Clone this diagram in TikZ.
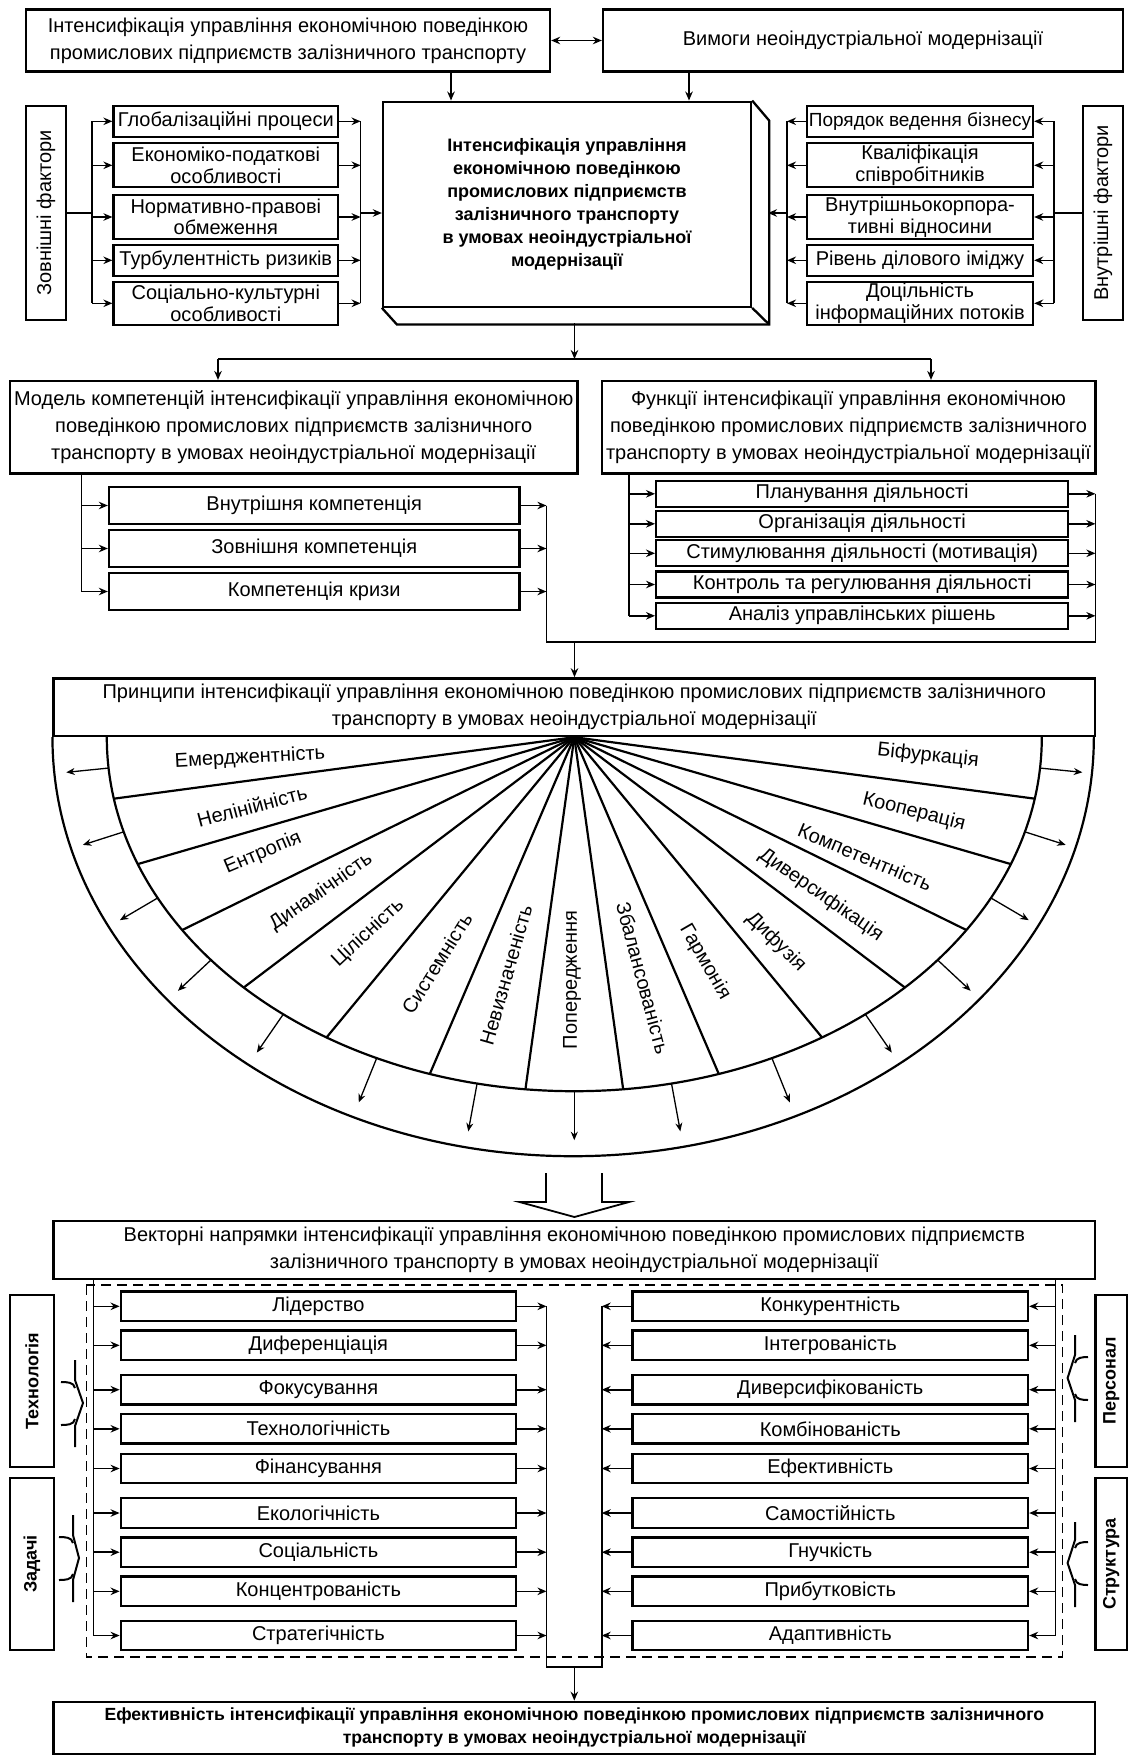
\documentclass[tikz,border=0pt]{standalone}
\usepackage{fontspec}
\setmainfont{Liberation Sans}
\usetikzlibrary{arrows.meta}
\usetikzlibrary{positioning}
\usetikzlibrary{calc}

\begin{document}
\begin{tikzpicture}
        [x=1pt, y=-1pt,
         every node/.style={inner sep=0pt, align=center, font=\fontsize{20}{27}\selectfont},
         box/.style={draw, line width=2.3pt},
         tight/.style={font=\fontsize{20}{21.5}\selectfont},
         heavy/.style={font=\fontsize{18}{23}\selectfont\bfseries},
         link/.style={line width=1.6pt},
         conn/.style={line width=1.6pt, -{Stealth[length=9pt, width=7.5pt]}},
         spoke/.style={line width=2.2pt},
         ray/.style={line width=1.3pt, -{Stealth[length=8.5pt, width=7pt]}}]
        \useasboundingbox (0,0) rectangle (1129,1757);

        \node [box, minimum width=524, minimum height=62] (intens) at (288,40.5) {Інтенсифікація управління економічною поведінкою\\промислових підприємств залізничного транспорту};
        \node [box, minimum width=520, minimum height=62] (vymogy) at (863,40.5) {Вимоги неоіндустріальної модернізації};
        \draw [line width=1.6pt, {Stealth[length=9pt, width=7.5pt]}-{Stealth[length=9pt, width=7.5pt]}] (intens) -- (vymogy);

        \node [box, heavy, minimum width=368, minimum height=205] (core) at (567,204.2) {Інтенсифікація управління\\економічною поведінкою\\промислових підприємств\\залізничного транспорту\\в умовах неоіндустріальної\\модернізації};
        \draw [line width=2.3pt] (core.north east) -- ++(17,20) |- ($(core.south west)+(15,16.6)$) -- (core.south west);
        \draw [line width=2.3pt] (core.south east) -- ++(17,16.6);
        \draw [conn] ([xshift=163pt]intens.south) -- ([xshift=163pt]intens.south |- core.north);
        \draw [conn] ([xshift=-174pt]vymogy.south) -- ([xshift=-174pt]vymogy.south |- core.north);

        \node [box, rotate=90, minimum width=214, minimum height=40] (extf) at (46,213) {Зовнішні фактори};
        \node [box, minimum width=224.5, minimum height=30.7] (glob) at (225.8,121.3) {Глобалізаційні процеси};
        \node [box, tight, minimum width=224.5, minimum height=44] (econ) at (225.8,165.3) {Економіко-податкові\\особливості};
        \node [box, tight, minimum width=224.5, minimum height=44] (norm) at (225.8,217) {Нормативно-правові\\обмеження};
        \node [box, minimum width=224.5, minimum height=30.7] (turb) at (225.8,260.3) {Турбулентність ризиків};
        \node [box, tight, minimum width=224.5, minimum height=43.3] (socc) at (225.8,303.3) {Соціально-культурні\\особливості};

        \node [box, rotate=90, minimum width=214, minimum height=40] (intf) at (1103,213) {Внутрішні фактори};
        \node [box, minimum width=226, minimum height=30.7, font=\fontsize{19}{26}\selectfont] (poryad) at (920,121.3) {Порядок ведення бізнесу};
        \node [box, tight, minimum width=226, minimum height=44] (kval) at (920,165.3) {Кваліфікація\\співробітників};
        \node [box, tight, minimum width=226, minimum height=44] (korp) at (920,217) {Внутрішньокорпора-\\тивні відносини};
        \node [box, minimum width=226, minimum height=30.7] (imidzh) at (920,260.3) {Рівень ділового іміджу};
        \node [box, tight, minimum width=226, minimum height=43.3] (potok) at (920,303.3) {Доцільність\\інформаційних потоків};

        \coordinate (lb) at (92,0);
        \coordinate (rb) at (360.6,0);
        \coordinate (lb2) at (787,0);
        \coordinate (rb2) at (1054,0);
        \coordinate (side) at (768,213);
        \draw [link] (extf.south) -- (extf.south -| lb);
        \draw [link] (glob.west -| lb) -- (socc.west -| lb);
        \draw [link] (glob.east -| rb) -- (socc.east -| rb);
        \foreach \n in {glob,econ,norm,turb,socc} {
            \draw [conn] (\n.west -| lb) -- (\n.west);
            \draw [conn] (\n.east) -- (\n.east -| rb);
        }
        \draw [conn] (extf.south -| rb) -- (extf.south -| core.west);
        \draw [link] (intf.north) -- (intf.north -| rb2);
        \draw [link] (poryad.east -| rb2) -- (potok.east -| rb2);
        \draw [link] (poryad.west -| lb2) -- (potok.west -| lb2);
        \foreach \n in {poryad,kval,korp,imidzh,potok} {
            \draw [conn] (\n.east -| rb2) -- (\n.east);
            \draw [conn] (\n.west) -- (\n.west -| lb2);
        }
        \draw [conn] (intf.north -| lb2) -- (side);

        \node [box, minimum width=567.4, minimum height=92.3] (model) at (293.7,427.2) {Модель компетенцій інтенсифікації управління економічною\\поведінкою промислових підприємств залізничного\\транспорту в умовах неоіндустріальної модернізації};
        \node [box, minimum width=493.7, minimum height=92.3] (func) at (848.5,427.2) {Функції інтенсифікації управління економічною\\поведінкою промислових підприємств залізничного\\транспорту в умовах неоіндустріальної модернізації};
        \coordinate (corebot) at (574.5,323.3);
        \coordinate (split) at (574.5,359);
        \coordinate (mdl) at (218,359);
        \coordinate (fnc) at (931,359);
        \draw [conn] (corebot) -- (split);
        \draw [link] (mdl) -- (fnc);
        \draw [conn] (mdl) -- (mdl |- model.north);
        \draw [conn] (fnc) -- (fnc |- func.north);

        \node [box, minimum width=410.4, minimum height=37.5] (vnk) at (314.2,505.5) {Внутрішня компетенція};
        \node [box, minimum width=410.4, minimum height=37.5] (zvk) at (314.2,548.5) {Зовнішня компетенція};
        \node [box, minimum width=410.4, minimum height=37.5] (krk) at (314.2,591.5) {Компетенція кризи};

        \node [box, minimum width=412, minimum height=26] (plan) at (862.2,493.8) {Планування діяльності};
        \node [box, minimum width=412, minimum height=26] (org) at (862.2,523.8) {Організація діяльності};
        \node [box, minimum width=412, minimum height=26] (stim) at (862.2,553.3) {Стимулювання діяльності (мотивація)};
        \node [box, minimum width=412, minimum height=26] (ctrl) at (862.2,584.5) {Контроль та регулювання діяльності};
        \node [box, minimum width=412, minimum height=26] (anal) at (862.2,615.8) {Аналіз управлінських рішень};

        \coordinate (mb) at (81.4,0);
        \coordinate (cb2) at (546.4,0);
        \coordinate (fb) at (629,0);
        \coordinate (fr) at (1095.4,0);
        \coordinate (gather) at (574.5,641.7);
        \draw [link] (model.south -| mb) -- (krk.west -| mb);
        \foreach \n in {vnk,zvk,krk} {
            \draw [conn] (\n.west -| mb) -- (\n.west);
            \draw [conn] (\n.east) -- (\n.east -| cb2);
        }
        \draw [link] (func.south -| fb) -- (anal.west -| fb);
        \foreach \n in {plan,org,stim,ctrl,anal} {
            \draw [conn] (\n.west -| fb) -- (\n.west);
            \draw [conn] (\n.east) -- (\n.east -| fr);
        }
        \draw [link] (vnk.east -| cb2) -- (cb2 |- gather) -- (fr |- gather) -- (plan.east -| fr);

        \node [box, minimum width=1041.4, minimum height=57.7] (princ) at (574.3,707.2) {Принципи інтенсифікації управління економічною поведінкою промислових підприємств залізничного\\транспорту в умовах неоіндустріальної модернізації};
        \draw [conn] (gather) -- (gather |- princ.north);

        \coordinate (fc) at (princ.south);
        \draw [spoke] (princ.south west) arc[start angle=180, end angle=0, x radius=520.7, y radius=419];
        \draw [spoke] ($(fc)+(-467.5,0)$) arc[start angle=180, end angle=0, x radius=467.5, y radius=354];
        \foreach \a in {170,159,147,135,122,108,96,84,72,58,45,33,21,10}
            \draw [spoke] (fc) -- ($(fc)+(\a:467.5 and 354)$);
        \foreach \a in {175,164.5,153,141,128.5,115,102,90,78,65,51.5,39,27,15.5,5}
            \draw [ray] ($(fc)+(\a:467.5 and 354)$) -- ($(fc)+(\a:510 and 403)$);

        \node [rotate=3] (emerg) at (250,758) {Емерджентність};
        \node [rotate=15] (nelin) at (252,806) {Нелінійність};
        \node [rotate=23] (entr) at (263,853) {Ентропія};
        \node [rotate=35] (dynam) at (321,892) {Динамічність};
        \node [rotate=43] (cilis) at (368,933) {Цілісність};
        \node [rotate=58] (system) at (437,963) {Системність};
        \node [rotate=74] (nevyz) at (506,975) {Невизначеність};
        \node [rotate=90] (poper) at (572,980) {Попередження};
        \node [rotate=-75] (zbal) at (643,978) {Збалансованість};
        \node [rotate=-60] (garm) at (705,962) {Гармонія};
        \node [rotate=-45] (dyfuz) at (776,942) {Дифузія};
        \node [rotate=-35] (dyvers) at (821,895) {Диверсифікація};
        \node [rotate=-23] (kompet) at (865,857) {Компетентність};
        \node [rotate=-14] (koop) at (914,812) {Кооперація};
        \node [rotate=-6] (bifur) at (928,756) {Біфуркація};

        \draw [line width=1.8pt] (546,1173) -- (546,1202) -- (519.5,1202) -- (574.4,1217) -- (629,1202) -- (602,1202) -- (602,1173);

        \node [box, minimum width=1041.4, minimum height=58] (vect) at (574.3,1250) {Векторні напрямки інтенсифікації управління економічною поведінкою промислових підприємств\\залізничного транспорту в умовах неоіндустріальної модернізації};

        \draw [line width=1.4pt, dash pattern=on 10pt off 6pt] (86.4,1285) rectangle (1062.6,1657);

        \node [box, minimum width=395.3, minimum height=29.4] (l1) at (318.4,1306.3) {Лідерство};
        \node [box, minimum width=395.3, minimum height=29.4] (l2) at (318.4,1345.3) {Диференціація};
        \node [box, minimum width=395.3, minimum height=29.4] (l3) at (318.4,1389.7) {Фокусування};
        \node [box, minimum width=395.3, minimum height=29.4] (l4) at (318.4,1428.8) {Технологічність};
        \node [box, minimum width=395.3, minimum height=29.4] (l5) at (318.4,1468.5) {Фінансування};
        \node [box, minimum width=395.3, minimum height=29.4] (l6) at (318.4,1513) {Екологічність};
        \node [box, minimum width=395.3, minimum height=29.4] (l7) at (318.4,1552.2) {Соціальність};
        \node [box, minimum width=395.3, minimum height=29.4] (l8) at (318.4,1591.3) {Концентрованість};
        \node [box, minimum width=395.3, minimum height=29.4] (l9) at (318.4,1635.5) {Стратегічність};

        \node [box, minimum width=395.4, minimum height=29.4] (r1) at (830.3,1306.3) {Конкурентність};
        \node [box, minimum width=395.4, minimum height=29.4] (r2) at (830.3,1345.3) {Інтегрованість};
        \node [box, minimum width=395.4, minimum height=29.4] (r3) at (830.3,1389.7) {Диверсифікованість};
        \node [box, minimum width=395.4, minimum height=29.4] (r4) at (830.3,1428.8) {Комбінованість};
        \node [box, minimum width=395.4, minimum height=29.4] (r5) at (830.3,1468.5) {Ефективність};
        \node [box, minimum width=395.4, minimum height=29.4] (r6) at (830.3,1513) {Самостійність};
        \node [box, minimum width=395.4, minimum height=29.4] (r7) at (830.3,1552.2) {Гнучкість};
        \node [box, minimum width=395.4, minimum height=29.4] (r8) at (830.3,1591.3) {Прибутковість};
        \node [box, minimum width=395.4, minimum height=29.4] (r9) at (830.3,1635.5) {Адаптивність};

        \node [box, heavy, rotate=90, minimum width=172, minimum height=44] (tech) at (32,1381) {Технологія};
        \node [box, heavy, rotate=90, minimum width=172, minimum height=44] (task) at (32,1564) {Задачі};
        \node [box, heavy, rotate=90, minimum width=172, minimum height=31.5] (staff) at (1111.3,1381) {Персонал};
        \node [box, heavy, rotate=90, minimum width=172, minimum height=31.5] (struct) at (1111.3,1564) {Структура};

        \draw [line width=2pt] (75,1360) -- (75,1380) -- (83,1403) -- (75,1426) -- (75,1447);
        \draw [line width=2pt] (61,1382) to[out=0, in=100] (75,1388) (61,1425) to[out=0, in=-100] (75,1419);
        \draw [line width=2pt] (73,1515) -- (73,1535) -- (79,1558) -- (73,1580) -- (73,1602);
        \draw [line width=2pt] (59,1537) to[out=0, in=100] (73,1543) (59,1580) to[out=0, in=-100] (73,1574);
        \draw [line width=2pt] (1075,1335) -- (1075,1355) -- (1067.6,1378) -- (1075,1400) -- (1075,1422);
        \draw [line width=2pt] (1088,1357) to[out=180, in=80] (1075,1363) (1088,1400) to[out=180, in=-80] (1075,1394);
        \draw [line width=2pt] (1075,1522) -- (1075,1540) -- (1067.6,1563) -- (1075,1585) -- (1075,1607);
        \draw [line width=2pt] (1088,1542) to[out=180, in=80] (1075,1548) (1088,1585) to[out=180, in=-80] (1075,1579);

        \node [box, minimum width=1041.4, minimum height=52.3, font=\fontsize{17.6}{23}\selectfont\bfseries] (final) at (574.3,1727.9) {Ефективність інтенсифікації управління економічною поведінкою промислових підприємств залізничного\\транспорту в умовах неоіндустріальної модернізації};

        \coordinate (vl) at (93.5,0);
        \coordinate (vr) at (1055.5,0);
        \coordinate (cl) at (546.5,0);
        \coordinate (cr) at (601.7,0);
        \coordinate (jn) at (574.3,1667);
        \draw [link] (vect.south -| vl) -- (l9.west -| vl);
        \draw [link] (vect.south -| vr) -- (r9.east -| vr);
        \foreach \i in {1,...,9} {
            \draw [conn] (l\i.west -| vl) -- (l\i.west);
            \draw [conn] (l\i.east) -- (l\i.east -| cl);
            \draw [conn] (r\i.east -| vr) -- (r\i.east);
            \draw [conn] (r\i.west) -- (r\i.west -| cr);
        }
        \draw [link] (l1.east -| cl) |- (jn) -| (r1.west -| cr);
        \draw [conn] (jn) -- (final.north);
\end{tikzpicture}
\end{document}
